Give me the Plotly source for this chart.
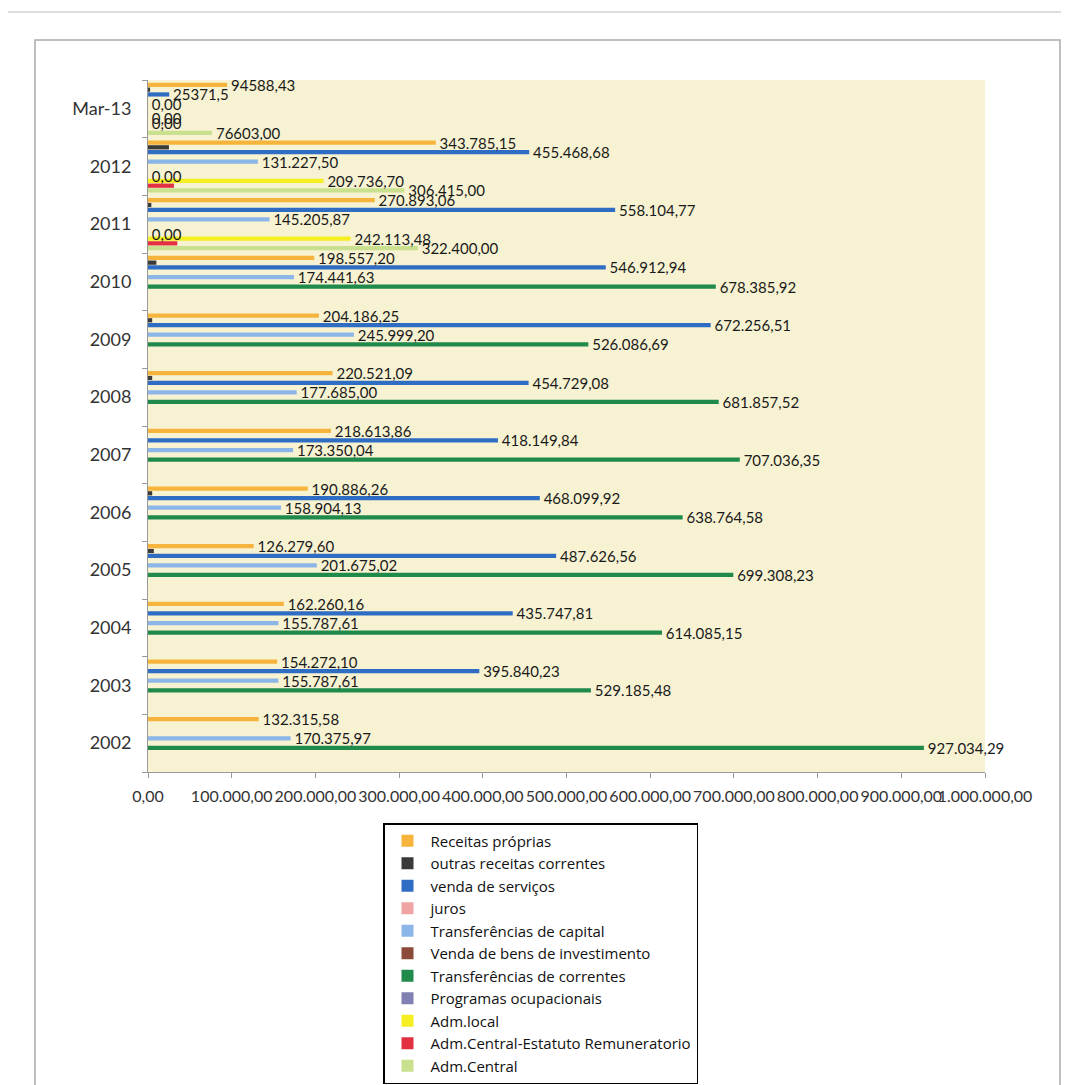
import plotly.graph_objects as go

categories = ["2002", "2003", "2004", "2005", "2006", "2007", "2008", "2009", "2010", "2011", "2012", "Mar-13"]

series_names = [
    "Receitas próprias",
    "outras receitas correntes",
    "venda de serviços",
    "juros",
    "Transferências de capital",
    "Venda de bens de investimento",
    "Transferências de correntes",
    "Programas ocupacionais",
    "Adm.local",
    "Adm.Central-Estatuto Remuneratorio",
    "Adm.Central",
]

receitas_proprias = [132315.58, 154272.10, 162260.16, 126279.60, 190886.26, 218613.86, 220521.09, 204186.25, 198557.20, 270893.06, 343785.15, 94588.43]
outras_receitas = [None, None, None, 7000, 5000, None, 5000, 5000, 10000, 4000, 25000, 2500]
venda_servicos = [None, 395840.23, 435747.81, 487626.56, 468099.92, 418149.84, 454729.08, 672256.51, 546912.94, 558104.77, 455468.68, 25371.5]
juros = [None] * 12
transf_capital = [170375.97, 155787.61, 155787.61, 201675.02, 158904.13, 173350.04, 177685.00, 245999.20, 174441.63, 145205.87, 131227.50, 0.0]
venda_bens = [None] * 12
transf_correntes = [927034.29, 529185.48, 614085.15, 699308.23, 638764.58, 707036.35, 681857.52, 526086.69, 678385.92, None, None, None]
programas = [None, None, None, None, None, None, None, None, None, 0.0, 0.0, 0.0]
adm_local = [None, None, None, None, None, None, None, None, None, 242113.48, 209736.70, 0.0]
adm_central_estatuto = [None, None, None, None, None, None, None, None, None, 35000, 31000, None]
adm_central = [None, None, None, None, None, None, None, None, None, 322400.00, 306415.00, 76603.00]

series_values = [receitas_proprias, outras_receitas, venda_servicos, juros, transf_capital, venda_bens,
                 transf_correntes, programas, adm_local, adm_central_estatuto, adm_central]

colors = ["#F6B43C", "#3A3A3A", "#2F6CC4", "#F0A4A4", "#8DB6E8", "#8B4A3A",
          "#1F8A4C", "#8080B2", "#F4EE22", "#E23040", "#C9E08E"]

labeled = [True, False, True, False, True, False, True, True, True, False, True]

x_ticks = [0, 100000, 200000, 300000, 400000, 500000, 600000, 700000, 800000, 900000, 1000000]

mar13_labels = {"Receitas próprias": "94588,43", "venda de serviços": "25371,5", "Adm.Central": "76603,00"}

# figure geometry (page body has an 8px margin)
W, H = 1061, 1077
L, R, T, B = 140, 84, 72, 313
PW, PH = W - L - R, H - T - B


def px(x):
    return (x - 8 - L) / PW


def py(y):
    return (H - B - (y - 8)) / PH


def fmt(v):
    s = f"{v:,.2f}"
    return s.replace(",", "X").replace(".", ",").replace("X", ".")


fig = go.Figure()
for i in reversed(range(len(series_names))):
    name = series_names[i]
    vals = series_values[i]
    texts = []
    for c, v in zip(categories, vals):
        if not labeled[i] or v is None:
            texts.append("")
        elif c == "Mar-13" and name in mar13_labels:
            texts.append("\u00a0" + mar13_labels[name])
        else:
            texts.append("\u00a0" + fmt(v))
    fig.add_trace(go.Bar(
        y=categories, x=vals, orientation="h", name=name,
        marker=dict(color=colors[i], line=dict(width=0)),
        text=texts, textposition="outside", constraintext="none", cliponaxis=False,
        textfont=dict(family="Lato", size=15, color="#1a1a1a"),
    ))

fig.update_layout(
    width=W, height=H,
    margin=dict(l=L, r=R, t=T, b=B, autoexpand=False),
    paper_bgcolor="white",
    plot_bgcolor="#F7F2D2",
    barmode="group",
    bargap=0.085,
    bargroupgap=0.12,
    separators=",.",
    font=dict(family="Lato", color="#222222"),
    showlegend=True,
    legend=dict(
        traceorder="reversed",
        x=px(383), y=py(823), xanchor="left", yanchor="top",
        bgcolor="white", bordercolor="black", borderwidth=1.5,
        font=dict(family="Open Sans", size=15, color="#111111"),
        tracegroupgap=0,
        itemwidth=36,
    ),
    xaxis=dict(
        range=[0, 1000000], tickvals=x_ticks, tickformat=",.2f", tickangle=0,
        showgrid=False, zeroline=False, showline=True, linecolor="#999999",
        ticks="outside", ticklen=5, tickcolor="#999999", ticklabelstandoff=5,
        tickfont=dict(family="Lato", size=16, color="#333333"),
    ),
    yaxis=dict(
        type="category", categoryorder="array", categoryarray=categories,
        showgrid=False, zeroline=False, showline=True, linecolor="#999999",
        ticks="outside", ticklen=5, tickcolor="#999999", tickson="boundaries",
        ticklabelstandoff=12,
        tickfont=dict(family="Lato", size=18, color="#333333"),
    ),
)

# outer chart frame (scan border)
fig.add_shape(type="rect", xref="paper", yref="paper",
              x0=px(35), x1=px(1060), y0=py(1100), y1=py(40),
              line=dict(color="#AAAAAA", width=1.5), fillcolor="rgba(0,0,0,0)", layer="below")
fig.add_shape(type="line", xref="paper", yref="paper",
              x0=px(0), x1=px(1069), y0=py(12), y1=py(12),
              line=dict(color="#BBBBBB", width=1))

fig.write_html("out.html")
